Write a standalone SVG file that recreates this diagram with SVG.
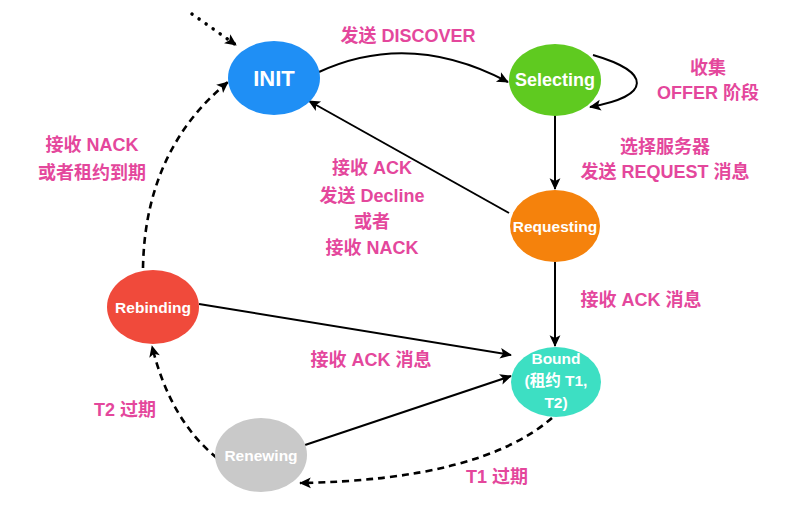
<svg xmlns="http://www.w3.org/2000/svg" width="786" height="523" viewBox="0 0 786 523">
<style>
.lbl{font-family:"Liberation Sans","Noto Sans CJK SC",sans-serif;font-weight:bold;font-size:18px;fill:#e4479c;text-anchor:middle}
.nt{font-family:"Liberation Sans","Noto Sans CJK SC",sans-serif;font-weight:bold;font-size:15.5px;fill:#fff;text-anchor:middle}
.e{fill:none;stroke:#000;stroke-width:2}
.d{stroke-dasharray:7,5;stroke-width:2.6}
.dot{stroke-dasharray:0.1,8.5;stroke-linecap:round;stroke-width:3.5}
</style>
<defs>
<marker id="ah" viewBox="0 0 10 10" refX="9" refY="5" markerWidth="9" markerHeight="9" markerUnits="userSpaceOnUse" orient="auto" overflow="visible">
<path d="M-3,-1 L10,5 L-3,11 L0,5 Z" fill="#000"/>
</marker>
</defs>
<rect width="786" height="523" fill="#fff"/>
<g id="connectors">
<path class="e dot" d="M192,14 L236,45" marker-end="url(#ah)"/>
<path class="e" d="M319,72 Q410,30 508,82" marker-end="url(#ah)"/>
<path class="e" d="M593,55 C652,72 652,96 590,107" marker-end="url(#ah)"/>
<path class="e" d="M555,115 L555,189" marker-end="url(#ah)"/>
<path class="e" d="M509,213 L309,101" marker-end="url(#ah)"/>
<path class="e" d="M555,262 L555,346" marker-end="url(#ah)"/>
<path class="e" d="M199,304 L511,355" marker-end="url(#ah)"/>
<path class="e" d="M305,445 L511,376" marker-end="url(#ah)"/>
<path class="e d" d="M552,418 Q480,480 300,483" marker-end="url(#ah)"/>
<path class="e d" d="M217,458 Q170,420 152,346" marker-end="url(#ah)"/>
<path class="e d" d="M143,268 Q145,150 228,82" marker-end="url(#ah)"/>
</g>
<g id="INIT"><ellipse cx="274" cy="78" rx="46" ry="37" fill="#1f8ff5"/><text class="nt" x="274" y="86" style="font-size:22px">INIT</text></g>
<g id="Selecting"><ellipse cx="555" cy="80" rx="46" ry="36" fill="#5fca20"/><text class="nt" x="555" y="86" style="font-size:18px">Selecting</text></g>
<g id="Requesting"><ellipse cx="555" cy="226" rx="45" ry="36" fill="#f5820c"/><text class="nt" x="555" y="232">Requesting</text></g>
<g id="Bound"><ellipse cx="556" cy="382" rx="45" ry="35" fill="#3ddfc3"/><text class="nt" x="556" y="364">Bound</text><text class="nt" x="556" y="386">(租约 T1,</text><text class="nt" x="556" y="408">T2)</text></g>
<g id="Rebinding"><ellipse cx="153" cy="307" rx="46" ry="37" fill="#f04a3b"/><text class="nt" x="153" y="313">Rebinding</text></g>
<g id="Renewing"><ellipse cx="261" cy="455" rx="46" ry="37" fill="#c9c9c9"/><text class="nt" x="261" y="461">Renewing</text></g>
<g id="labels">
<text class="lbl" x="408" y="42">发送 DISCOVER</text>
<text class="lbl" x="708" y="74">收集</text>
<text class="lbl" x="708" y="99">OFFER 阶段</text>
<text class="lbl" x="665" y="153">选择服务器</text>
<text class="lbl" x="665" y="178">发送 REQUEST 消息</text>
<text class="lbl" x="92" y="151">接收 NACK</text>
<text class="lbl" x="92" y="179">或者租约到期</text>
<text class="lbl" x="372" y="174">接收 ACK</text>
<text class="lbl" x="372" y="202">发送 Decline</text>
<text class="lbl" x="372" y="228">或者</text>
<text class="lbl" x="372" y="254">接收 NACK</text>
<text class="lbl" x="641" y="306">接收 ACK 消息</text>
<text class="lbl" x="371" y="366">接收 ACK 消息</text>
<text class="lbl" x="125" y="416">T2 过期</text>
<text class="lbl" x="497" y="483">T1 过期</text>
</g>
</svg>
